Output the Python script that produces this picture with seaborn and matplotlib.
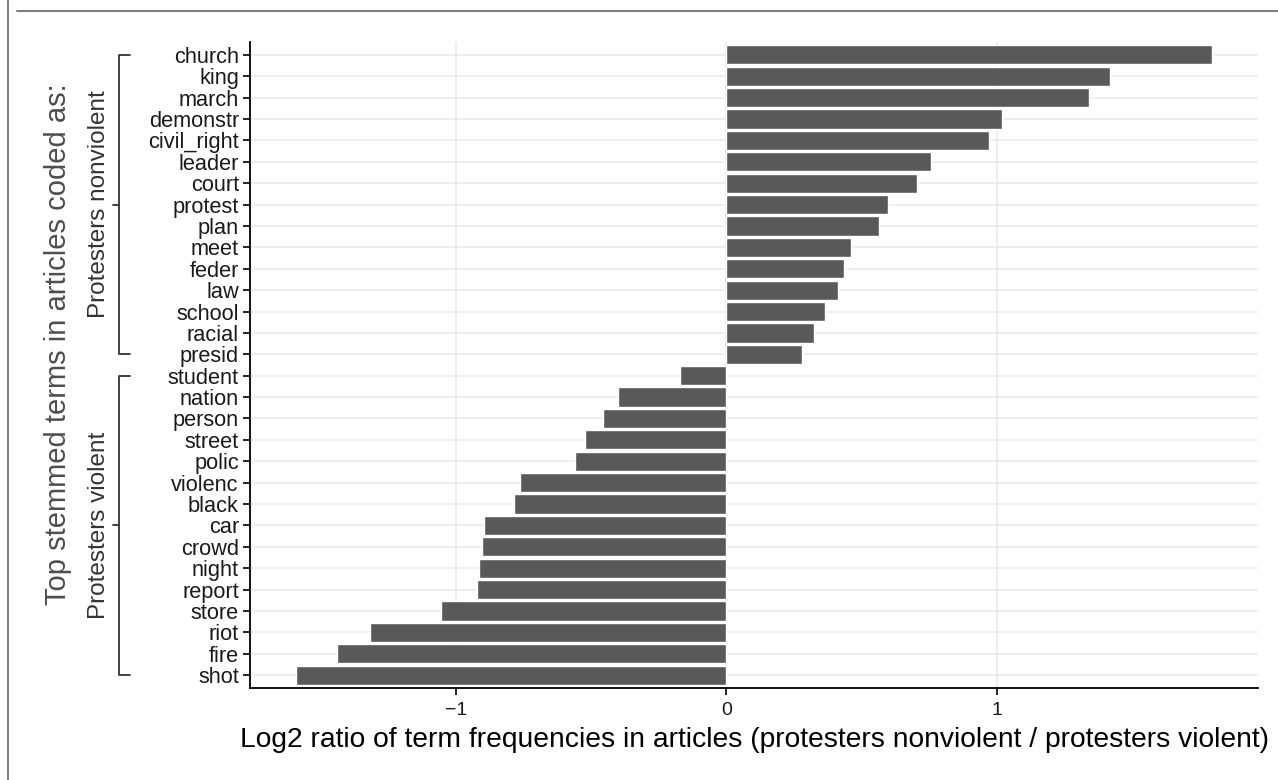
import matplotlib
matplotlib.use("Agg")
import matplotlib.pyplot as plt
import matplotlib.transforms as mtransforms
from matplotlib.lines import Line2D
import pandas as pd
import seaborn as sns

# terms from top to bottom, with log2 ratio
terms = ["church", "king", "march", "demonstr", "civil_right", "leader", "court",
         "protest", "plan", "meet", "feder", "law", "school", "racial", "presid",
         "student", "nation", "person", "street", "polic", "violenc", "black",
         "car", "crowd", "night", "report", "store", "riot", "fire", "shot"]
log2_ratio = [1.796, 1.417, 1.339, 1.020, 0.972, 0.758, 0.705, 0.597, 0.564,
              0.461, 0.434, 0.412, 0.364, 0.323, 0.278,
              -0.170, -0.402, -0.458, -0.524, -0.561, -0.763, -0.785, -0.896,
              -0.903, -0.914, -0.922, -1.054, -1.316, -1.441, -1.592]
groups = ["Protesters nonviolent"] * 15 + ["Protesters violent"] * 15
x_ticks = [-1, 0, 1]

df = pd.DataFrame({"term": terms, "ratio": log2_ratio, "group": groups})

sns.set_style("white")
plt.rcParams["font.family"] = ["Liberation Sans", "DejaVu Sans"]

W, H = 1278, 780
fig = plt.figure(figsize=(W / 100, H / 100), dpi=100)
ax = fig.add_axes([250 / W, 1 - 688 / H, (1258 - 250) / W, (688 - 42) / H])

sns.barplot(data=df, x="ratio", y="term", order=terms, orient="h",
            color="#595959", saturation=1, width=0.9, ax=ax, zorder=2)

lo, hi = min(log2_ratio), max(log2_ratio)
pad = (hi - lo) * 0.05
ax.set_xlim(lo - pad, hi + pad)
ax.set_ylim(len(terms) - 0.4, -0.6)
ax.set_xticks(x_ticks)
ax.set_xticklabels(["\u22121", "0", "1"])

ax.grid(True, color="#ebebeb", linewidth=1.2, zorder=0)
ax.set_axisbelow(True)
for s in ["top", "right"]:
    ax.spines[s].set_visible(False)
for s in ["left", "bottom"]:
    ax.spines[s].set_color("black")
    ax.spines[s].set_linewidth(1.3)
ax.tick_params(axis="both", direction="out", length=5, width=1.2, color="black",
               labelcolor="#1a1a1a", pad=3, bottom=True, left=True)
ax.tick_params(axis="y", labelsize=15.7)
ax.tick_params(axis="x", labelsize=14, pad=5)
ax.set_ylabel("")
ax.set_xlabel("Log2 ratio of term frequencies in articles (protesters nonviolent / protesters violent)",
              fontsize=20.3, color="black", labelpad=6)

# group brackets on the left
trans = mtransforms.blended_transform_factory(fig.transFigure, ax.transData)
xv, xe, xm = 119 / W, 130 / W, 113 / W
for g in ["Protesters nonviolent", "Protesters violent"]:
    idx = [i for i, gg in enumerate(groups) if gg == g]
    top, bot = idx[0], idx[-1]
    mid = (top + bot) / 2
    kw = dict(transform=trans, color="#333333", linewidth=1.3, clip_on=False)
    fig.add_artist(Line2D([xe, xv, xv, xe], [top, top, bot, bot], **kw))
    fig.add_artist(Line2D([xm, xv], [mid, mid], **kw))
    fig.text(99 / W, mid, g, transform=trans, rotation=90, ha="center",
             va="center", fontsize=17.5, color="#333333")

fig.text(58 / W, 1 - 344 / H, "Top stemmed terms in articles coded as:",
         rotation=90, ha="center", va="center", fontsize=21, color="#4d4d4d")

# outer frame pieces
fig.add_artist(Line2D([17 / W, 1], [1 - 11 / H, 1 - 11 / H],
                      transform=fig.transFigure, color="#7f7f7f", linewidth=1.5))
fig.add_artist(Line2D([8 / W, 8 / W], [0, 1],
                      transform=fig.transFigure, color="#7f7f7f", linewidth=1.5))

fig.savefig("out.png", dpi=100)
